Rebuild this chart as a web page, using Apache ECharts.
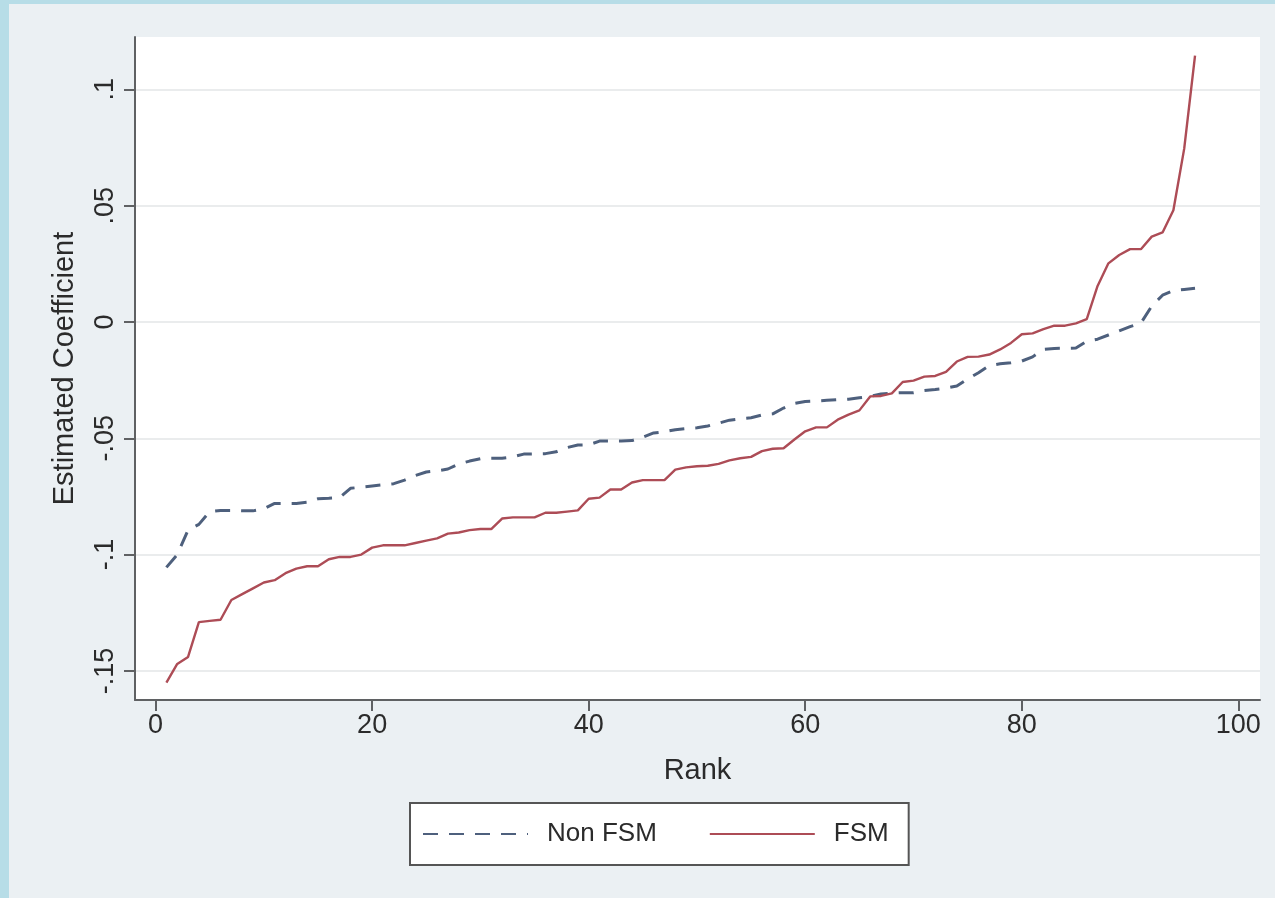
<!DOCTYPE html>
<html>
<head>
<meta charset="utf-8">
<title>Estimated Coefficient by Rank</title>
<script src="https://cdn.jsdelivr.net/npm/echarts@6/dist/echarts.min.js"></script>
<style>
  html, body { margin: 0; padding: 0; background: #b7dde7; }
  #chart { width: 1275px; height: 898px; }
</style>
</head>
<body>
<div id="chart"></div>
<script>
// Rank of each estimate (1..96)
const ranks = Array.from({ length: 96 }, (_, i) => i + 1);

// Sorted coefficient estimates, Non FSM pupils
const nonFsm = [
  -0.1055, -0.1000, -0.0895, -0.0870, -0.0815, -0.0810, -0.0810, -0.0812, -0.0812, -0.0803,
  -0.0780, -0.0780, -0.0780, -0.0775, -0.0760, -0.0758, -0.0755, -0.0715, -0.0710, -0.0705,
  -0.0700, -0.0695, -0.0680, -0.0660, -0.0645, -0.0640, -0.0632, -0.0610, -0.0598, -0.0588,
  -0.0586, -0.0586, -0.0580, -0.0568, -0.0567, -0.0566, -0.0558, -0.0540, -0.0529, -0.0528,
  -0.0512, -0.0512, -0.0512, -0.0510, -0.0495, -0.0477, -0.0472, -0.0463, -0.0458, -0.0455,
  -0.0447, -0.0435, -0.0422, -0.0416, -0.0412, -0.0400, -0.0395, -0.0370, -0.0350, -0.0342,
  -0.0340, -0.0337, -0.0334, -0.0332, -0.0326, -0.0320, -0.0310, -0.0306, -0.0304, -0.0304,
  -0.0295, -0.0290, -0.0284, -0.0275, -0.0245, -0.0218, -0.0188, -0.0180, -0.0175, -0.0168,
  -0.0150, -0.0118, -0.0114, -0.0113, -0.0112, -0.0083, -0.0074, -0.0056, -0.0038, -0.0020,
  -0.0005, 0.0068, 0.0115, 0.0135, 0.0140, 0.0145
];

// Sorted coefficient estimates, FSM pupils
const fsm = [
  -0.1550, -0.1470, -0.1440, -0.1290, -0.1285, -0.1280, -0.1195, -0.1170, -0.1145, -0.1120,
  -0.1110, -0.1080, -0.1060, -0.1050, -0.1050, -0.1020, -0.1010, -0.1010, -0.1000, -0.0970,
  -0.0960, -0.0960, -0.0960, -0.0950, -0.0940, -0.0930, -0.0910, -0.0905, -0.0895, -0.0890,
  -0.0890, -0.0845, -0.0840, -0.0840, -0.0840, -0.0820, -0.0820, -0.0815, -0.0810, -0.0760,
  -0.0755, -0.0720, -0.0720, -0.0690, -0.0680, -0.0680, -0.0680, -0.0635, -0.0625, -0.0620,
  -0.0618, -0.0610, -0.0595, -0.0586, -0.0580, -0.0555, -0.0545, -0.0543, -0.0505, -0.0470,
  -0.0453, -0.0453, -0.0420, -0.0398, -0.0380, -0.0320, -0.0318, -0.0307, -0.0258, -0.0252,
  -0.0235, -0.0232, -0.0214, -0.0170, -0.0150, -0.0149, -0.0140, -0.0118, -0.0090, -0.0053,
  -0.0049, -0.0031, -0.0016, -0.0016, -0.0006, 0.0012, 0.0155, 0.0252, 0.0288, 0.0313,
  0.0313, 0.0367, 0.0385, 0.0480, 0.0745, 0.1145
];

// Tick positions on each axis
const xTicks = [0, 20, 40, 60, 80, 100];
const yTicks = [-0.15, -0.1, -0.05, 0, 0.05, 0.1];

// Labels written without a leading zero: .05, -.1
function stataNum(v) {
  if (Math.abs(v) < 1e-9) return '0';
  const s = String(+v.toFixed(4));
  return s.replace(/^(-?)0\./, '$1.');
}

const FONT = '"Liberation Sans", Arial, Helvetica, sans-serif';
const axisColor = '#5f6163';
const textColor = '#2b2b2b';
const navy = '#4e607d';
const maroon = '#ad4c56';

const chart = echarts.init(document.getElementById('chart'), null, { renderer: 'canvas' });

chart.setOption({
  animation: false,
  backgroundColor: '#b7dde7',
  textStyle: { fontFamily: FONT },
  graphic: [
    {
      type: 'rect',
      z: -10,
      silent: true,
      shape: { x: 9, y: 4, width: 1266, height: 894 },
      style: { fill: '#ebf0f3' }
    }
  ],
  grid: {
    left: 135,
    right: 15,
    top: 37,
    bottom: 198,
    show: true,
    backgroundColor: '#ffffff',
    borderWidth: 0,
    containLabel: false
  },
  legend: {
    data: ['Non FSM', 'FSM'],
    left: 410,
    top: 803,
    orient: 'horizontal',
    itemWidth: 105,
    itemHeight: 20,
    itemGap: 52,
    padding: [18, 20, 18, 12],
    borderColor: '#555555',
    borderWidth: 2,
    borderRadius: 0,
    backgroundColor: '#ffffff',
    selectedMode: false,
    itemStyle: { opacity: 0 },
    textStyle: {
      fontFamily: FONT,
      fontSize: 26,
      color: textColor,
      padding: [0, 0, 0, 14]
    }
  },
  xAxis: {
    type: 'value',
    min: -1.9,
    max: 102,
    name: 'Rank',
    nameLocation: 'middle',
    nameGap: 56,
    nameTextStyle: { fontFamily: FONT, fontSize: 29, color: textColor },
    axisLine: { show: true, onZero: false, lineStyle: { color: axisColor, width: 2 } },
    axisTick: {
      show: true,
      customValues: xTicks,
      length: 11,
      lineStyle: { color: axisColor, width: 2 }
    },
    axisLabel: {
      customValues: xTicks,
      fontFamily: FONT,
      fontSize: 27,
      color: textColor,
      margin: 12
    },
    splitLine: { show: false }
  },
  yAxis: {
    type: 'value',
    min: -0.1625,
    max: 0.1225,
    name: 'Estimated Coefficient',
    nameLocation: 'middle',
    nameGap: 56,
    nameTextStyle: { fontFamily: FONT, fontSize: 29, color: textColor },
    axisLine: { show: true, onZero: false, lineStyle: { color: axisColor, width: 2 } },
    axisTick: {
      show: true,
      customValues: yTicks,
      length: 11,
      lineStyle: { color: axisColor, width: 2 }
    },
    axisLabel: {
      customValues: yTicks,
      rotate: 90,
      fontFamily: FONT,
      fontSize: 27,
      color: textColor,
      margin: 16,
      formatter: stataNum
    },
    splitLine: {
      show: true,
      lineStyle: { color: '#eaeced', width: 2 }
    }
  },
  series: [
    {
      name: 'Non FSM',
      type: 'line',
      data: ranks.map((r, i) => [r, nonFsm[i]]),
      showSymbol: false,
      symbol: 'none',
      lineStyle: { color: navy, width: 3, type: [15, 11] },
      itemStyle: { color: navy },
      z: 2
    },
    {
      name: 'FSM',
      type: 'line',
      data: ranks.map((r, i) => [r, fsm[i]]),
      showSymbol: false,
      symbol: 'none',
      lineStyle: { color: maroon, width: 2.4, type: 'solid' },
      itemStyle: { color: maroon },
      z: 3
    }
  ]
});
</script>
</body>
</html>
